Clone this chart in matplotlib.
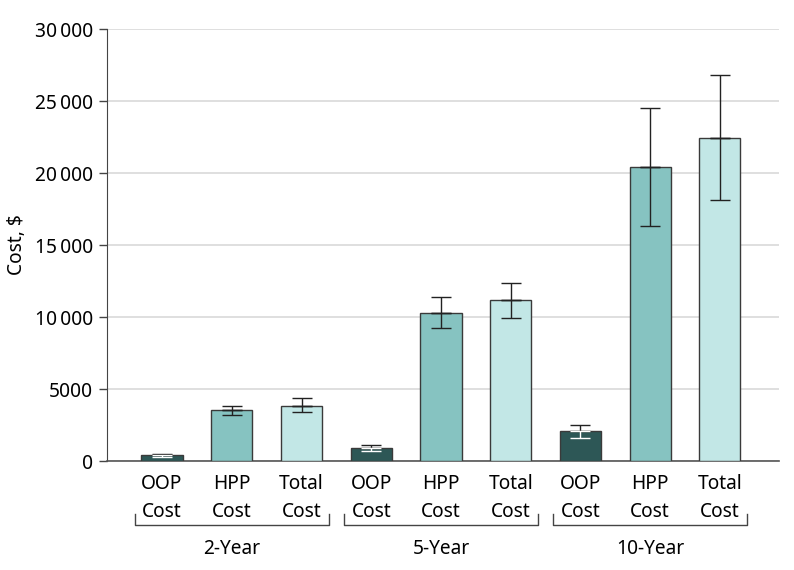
import matplotlib.pyplot as plt
import matplotlib.transforms as mtransforms
import numpy as np

plt.rcParams['font.family'] = ['Noto Sans', 'DejaVu Sans']

# dados
grupos = ['2-Year', '5-Year', '10-Year']
categorias = ['OOP\nCost', 'HPP\nCost', 'Total\nCost']
custos = [400, 3550, 3850,
          900, 10300, 11150,
          2050, 20400, 22450]
ic_inf = [300, 3200, 3400,
          700, 9250, 9950,
          1600, 16300, 18150]
ic_sup = [480, 3850, 4350,
          1100, 11400, 12350,
          2500, 24500, 26800]

cores = ['#2d5756', '#86c3c1', '#c2e7e6']
borda = '#3a3a3a'
fs = 13.8

fig = plt.figure(figsize=(7.94, 5.70), dpi=100)
ax = fig.add_axes([0.1348, 0.1912, 0.981 - 0.1348, 0.949 - 0.1912])

x = np.arange(len(custos))
cor_barras = [cores[i % 3] for i in range(len(custos))]
ax.bar(x, custos, width=0.59, color=cor_barras, edgecolor=borda, linewidth=1.0, zorder=3)

custos = np.array(custos)
ic_inf = np.array(ic_inf)
ic_sup = np.array(ic_sup)

# parte de cima do erro (escura)
ax.errorbar(x, custos, yerr=[np.zeros_like(custos), ic_sup - custos], fmt='none',
            ecolor='#222222', elinewidth=1.0, capsize=7, capthick=1.0, zorder=4)
# parte de baixo: branca dentro das barras escuras
cor_baixo = ['white' if i % 3 == 0 else '#222222' for i in range(len(custos))]
for i in range(len(custos)):
    ax.errorbar(x[i], custos[i], yerr=[[custos[i] - ic_inf[i]], [0]], fmt='none',
                ecolor=cor_baixo[i], elinewidth=1.0, capsize=7, capthick=1.0, zorder=4)

ax.set_ylim(0, 30000)
ax.set_xlim(-0.789, 8.846)
yt = np.arange(0, 30001, 5000)
ax.set_yticks(yt)
ax.set_yticklabels([f'{v:,}'.replace(',', '\u2009') if v >= 10000 else str(v) for v in yt],
                   fontsize=fs)
ax.set_ylabel('Cost, $', fontsize=fs, labelpad=6)
ax.yaxis.grid(True, color='#d9d9d9', linewidth=1.2, zorder=0)
ax.set_axisbelow(True)

ax.set_xticks(x)
ax.set_xticklabels(categorias * 3, fontsize=fs, linespacing=1.55)
ax.tick_params(axis='x', length=0, pad=9)
ax.tick_params(axis='y', length=6, color='#444444', width=1.0, pad=4)

for s in ['top', 'right']:
    ax.spines[s].set_visible(False)
ax.spines['left'].set_color('#444444')
ax.spines['bottom'].set_color('#555555')
ax.spines['bottom'].set_linewidth(1.2)

trans = mtransforms.blended_transform_factory(ax.transData, ax.transAxes)
for g, nome in enumerate(grupos):
    a = g * 3 - 0.39
    b = g * 3 + 2 + 0.39
    ax.plot([a, a, b, b], [-0.122, -0.148, -0.148, -0.122], color='#444444',
            linewidth=1.0, transform=trans, clip_on=False)
    ax.text(g * 3 + 1, -0.203, nome, ha='center', va='center', fontsize=fs,
            transform=trans)

plt.savefig('out.png', dpi=100)
